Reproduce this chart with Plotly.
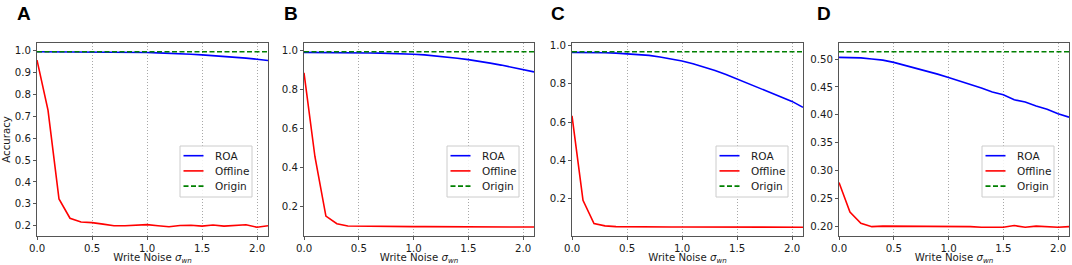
import plotly.graph_objects as go

W, H = 1072, 265

noise = [0.0, 0.1, 0.2, 0.3, 0.4, 0.5, 0.6, 0.7, 0.8, 0.9, 1.0,
         1.1, 1.2, 1.3, 1.4, 1.5, 1.6, 1.7, 1.8, 1.9, 2.0, 2.1]

# Panel A
roa_a = [0.995, 0.995, 0.995, 0.995, 0.995, 0.995, 0.994, 0.994, 0.994, 0.993, 0.992,
         0.990, 0.989, 0.987, 0.984, 0.981, 0.978, 0.975, 0.970, 0.966, 0.961, 0.955]
off_a = [0.957, 0.728, 0.322, 0.234, 0.217, 0.214, 0.207, 0.200, 0.200, 0.202, 0.205,
         0.200, 0.195, 0.201, 0.202, 0.198, 0.203, 0.198, 0.200, 0.204, 0.193, 0.200]
orig_a = 0.995

# Panel B
roa_b = [0.988, 0.988, 0.988, 0.987, 0.987, 0.986, 0.985, 0.984, 0.983, 0.981, 0.978,
         0.975, 0.970, 0.965, 0.958, 0.951, 0.943, 0.933, 0.923, 0.911, 0.899, 0.888]
off_b = [0.884, 0.455, 0.152, 0.113, 0.101, 0.100, 0.100, 0.100, 0.100, 0.099, 0.098,
         0.098, 0.098, 0.098, 0.097, 0.095, 0.097, 0.097, 0.097, 0.096, 0.096, 0.096]
orig_b = 0.991

# Panel C
roa_c = [0.965, 0.965, 0.964, 0.963, 0.961, 0.958, 0.955, 0.949, 0.941, 0.932, 0.920,
         0.905, 0.889, 0.870, 0.849, 0.826, 0.803, 0.781, 0.758, 0.735, 0.708, 0.677]
off_c = [0.633, 0.190, 0.068, 0.056, 0.052, 0.051, 0.051, 0.051, 0.050, 0.050, 0.050,
         0.050, 0.050, 0.050, 0.050, 0.050, 0.050, 0.050, 0.050, 0.050, 0.049, 0.049]
orig_c = 0.968

# Panel D
roa_d = [0.503, 0.503, 0.502, 0.500, 0.498, 0.494, 0.489, 0.484, 0.479, 0.473, 0.467,
         0.461, 0.454, 0.448, 0.441, 0.436, 0.427, 0.423, 0.416, 0.410, 0.402, 0.396]
off_d = [0.279, 0.226, 0.206, 0.200, 0.201, 0.201, 0.201, 0.200, 0.201, 0.200, 0.200,
         0.200, 0.200, 0.199, 0.199, 0.199, 0.202, 0.199, 0.201, 0.200, 0.199, 0.200]
orig_d = 0.513

panel_labels = ["A", "B", "C", "D"]
series_names = ["ROA", "Offline", "Origin"]
x_ticks = [0.0, 0.5, 1.0, 1.5, 2.0]
y_ticks = [
    [0.2, 0.3, 0.4, 0.5, 0.6, 0.7, 0.8, 0.9, 1.0],
    [0.2, 0.4, 0.6, 0.8, 1.0],
    [0.2, 0.4, 0.6, 0.8, 1.0],
    [0.20, 0.25, 0.30, 0.35, 0.40, 0.45, 0.50],
]
y_fmt = [".1f", ".1f", ".1f", ".2f"]

panels = [
    (roa_a, off_a, orig_a),
    (roa_b, off_b, orig_b),
    (roa_c, off_c, orig_c),
    (roa_d, off_d, orig_d),
]

# styles
colors = ["#0000ff", "#ff0000", "#008000"]
dashes = ["solid", "solid", "5px,2.5px"]
FONT = "DejaVu Sans"
TXT = "#1a1a1a"
FS = 10.2

# pixel layout
x_px = [(37, 268), (304, 534), (572, 803), (839, 1069)]
y_px = (43, 236)
legend_left = [180, 447, 716, 982]
legend_top = 146
legend_w, legend_h = 72, 51
letter_px = [15, 282, 549, 815]


def px(xp):
    return xp / W


def py(yp):
    return 1 - yp / H


fig = go.Figure()
shapes = []
annotations = []

for i, (roa, off, orig) in enumerate(panels):
    n = "" if i == 0 else str(i + 1)
    xa, ya = "x" + n, "y" + n
    ys = [roa, off, [orig, orig]]
    xs = [noise, noise, [noise[0], noise[-1]]]
    for k in range(3):
        fig.add_trace(go.Scatter(x=xs[k], y=ys[k], mode="lines", name=series_names[k],
                                 line=dict(color=colors[k], width=1.6, dash=dashes[k]),
                                 xaxis=xa, yaxis=ya, showlegend=False,
                                 legendgroup=series_names[k]))

    allv = roa + off + [orig]
    lo, hi = min(allv), max(allv)
    pad = 0.05 * (hi - lo)

    x0, x1 = x_px[i]
    common = dict(showline=True, mirror=True, linecolor="#555555", linewidth=1,
                  ticks="outside", ticklen=3, tickcolor="#555555", tickwidth=1,
                  tickfont=dict(family=FONT, size=FS, color=TXT),
                  zeroline=False, automargin=False)
    fig.layout["xaxis" + n] = dict(
        domain=[px(x0), px(x1)], anchor=ya, range=[0, 2.1],
        tickvals=x_ticks, tickformat=".1f",
        showgrid=True, gridcolor="#a8a8a8", gridwidth=1, griddash="1px,2px",
        title=dict(text="Write Noise <i>σ</i><sub><i>wn</i></sub>",
                   font=dict(family=FONT, size=FS, color=TXT), standoff=4),
        **common)
    yax = dict(
        domain=[py(y_px[1]), py(y_px[0])], anchor=xa,
        range=[lo - pad, hi + pad], tickvals=y_ticks[i], tickformat=y_fmt[i],
        showgrid=False, **common)
    if i == 0:
        yax["title"] = dict(text="Accuracy", font=dict(family=FONT, size=FS, color=TXT),
                            standoff=2)
    fig.layout["yaxis" + n] = yax

    # legend box (matplotlib style)
    L = legend_left[i]
    T = legend_top
    shapes.append(dict(type="rect", xref="paper", yref="paper",
                       x0=px(L), x1=px(L + legend_w), y0=py(T + legend_h), y1=py(T),
                       line=dict(color="#cccccc", width=1),
                       fillcolor="rgba(255,255,255,0.85)", layer="above"))
    for k in range(3):
        ry = T + 9.7 + 15.2 * k
        shapes.append(dict(type="line", xref="paper", yref="paper",
                           x0=px(L + 3.5), x1=px(L + 23.5), y0=py(ry), y1=py(ry),
                           line=dict(color=colors[k], width=1.6, dash=dashes[k]),
                           layer="above"))
        annotations.append(dict(text=series_names[k], x=px(L + 33), y=py(ry),
                                xref="paper", yref="paper", xanchor="left",
                                yanchor="middle", showarrow=False,
                                font=dict(family=FONT, size=10.5, color=TXT)))

    annotations.append(dict(text="<b>" + panel_labels[i] + "</b>", x=px(letter_px[i]),
                            y=py(1), xref="paper", yref="paper", xanchor="left",
                            yanchor="top", showarrow=False,
                            font=dict(family="Liberation Sans", size=19, color="#000000")))

fig.update_layout(
    width=W, height=H,
    margin=dict(l=0, r=0, t=0, b=0, autoexpand=False),
    plot_bgcolor="white", paper_bgcolor="white",
    font=dict(family=FONT, size=FS, color=TXT),
    showlegend=False,
    shapes=shapes, annotations=annotations,
)

fig.write_html(
    "out.html",
    config={"displayModeBar": False},
    post_script="document.body.style.margin='0px';document.body.style.overflow='hidden';",
)
